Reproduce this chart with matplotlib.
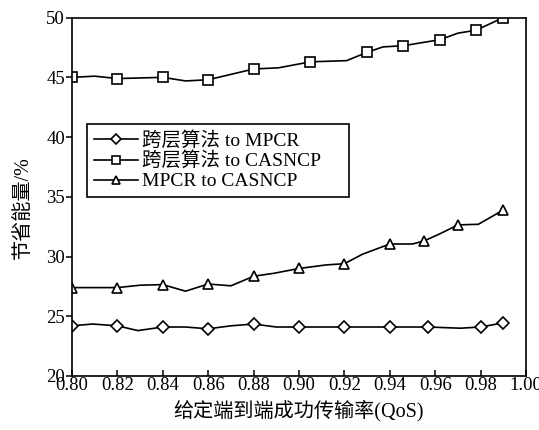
import matplotlib
matplotlib.use("Agg")
import matplotlib.pyplot as plt

plt.rcParams['font.family'] = ['Liberation Serif', 'Noto Sans CJK SC']
plt.rcParams['axes.unicode_minus'] = False

# Series 1: 跨层算法 to MPCR (diamond)
x1 = [0.800, 0.809, 0.820, 0.829, 0.840, 0.850, 0.860, 0.870, 0.880, 0.890, 0.900, 0.920, 0.940, 0.957, 0.971, 0.980, 0.990]
y1 = [24.2, 24.35, 24.2, 23.8, 24.1, 24.1, 23.95, 24.2, 24.35, 24.1, 24.1, 24.1, 24.1, 24.1, 24.0, 24.1, 24.45]
m1 = [0, 2, 4, 6, 8, 10, 11, 12, 13, 15, 16]

# Series 2: 跨层算法 to CASNCP (square)
x2 = [0.800, 0.810, 0.820, 0.840, 0.850, 0.860, 0.880, 0.891, 0.905, 0.921, 0.930, 0.937, 0.946, 0.962, 0.970, 0.978, 0.990]
y2 = [45.0, 45.1, 44.9, 45.0, 44.7, 44.8, 45.7, 45.8, 46.3, 46.4, 47.1, 47.55, 47.65, 48.15, 48.7, 48.95, 50.0]
m2 = [0, 2, 3, 5, 6, 8, 10, 12, 13, 15, 16]

# Series 3: MPCR to CASNCP (triangle)
x3 = [0.800, 0.820, 0.830, 0.840, 0.850, 0.860, 0.870, 0.880, 0.889, 0.900, 0.912, 0.920, 0.928, 0.940, 0.950, 0.955, 0.962, 0.970, 0.979, 0.990]
y3 = [27.4, 27.4, 27.6, 27.65, 27.1, 27.7, 27.55, 28.35, 28.6, 29.0, 29.3, 29.4, 30.2, 31.05, 31.05, 31.3, 31.9, 32.65, 32.7, 33.9]
m3 = [0, 1, 3, 5, 7, 9, 11, 13, 15, 17, 19]

labels = ['跨层算法 to MPCR', '跨层算法 to CASNCP', 'MPCR to CASNCP']
xticks = [0.80, 0.82, 0.84, 0.86, 0.88, 0.90, 0.92, 0.94, 0.96, 0.98, 1.00]
yticks = [20, 25, 30, 35, 40, 45, 50]

fig = plt.figure(figsize=(5.39, 4.30), dpi=100)
ax = fig.add_axes([0.1336, 0.1256, 0.976 - 0.1336, 0.959 - 0.1256])

common = dict(color='black', lw=1.2, markerfacecolor='white', markeredgecolor='black', markeredgewidth=1.2)
ax.plot(x1, y1, marker='D', markersize=6.5, markevery=m1, label=labels[0], **common)
ax.plot(x2, y2, marker='s', markersize=6.5, markevery=m2, label=labels[1], **common)
ax.plot(x3, y3, marker='^', markersize=7.5, markevery=m3, label=labels[2], **common)

ax.set_xlim(0.80, 1.00)
ax.set_ylim(20, 50)
ax.set_xticks(xticks)
ax.set_xticklabels([f'{t:.2f}' for t in xticks])
ax.set_yticks(yticks)
ax.tick_params(axis='x', direction='in', length=4, width=1.1, labelsize=13.5, pad=1)
ax.tick_params(axis='y', direction='out', length=4, width=1.1, labelsize=13.5, pad=1)
for s in ax.spines.values():
    s.set_linewidth(1.2)

ax.set_xlabel('给定端到端成功传输率(QoS)', fontsize=14.5, labelpad=4)
ax.set_ylabel('节省能量/%', fontsize=14.5)
ax.yaxis.set_label_coords(-0.086, 0.469)

leg = ax.legend(loc='upper left', bbox_to_anchor=(0.0324, 0.703, 0.578, 0.0), mode='expand',
                fontsize=14, markerscale=0.8,
                frameon=True, fancybox=False, edgecolor='black', framealpha=1,
                handlelength=2.3, handletextpad=0.2, borderpad=0.35, labelspacing=0.12,
                borderaxespad=0)
leg.get_frame().set_linewidth(1.2)

fig.savefig('out.png', dpi=100)
